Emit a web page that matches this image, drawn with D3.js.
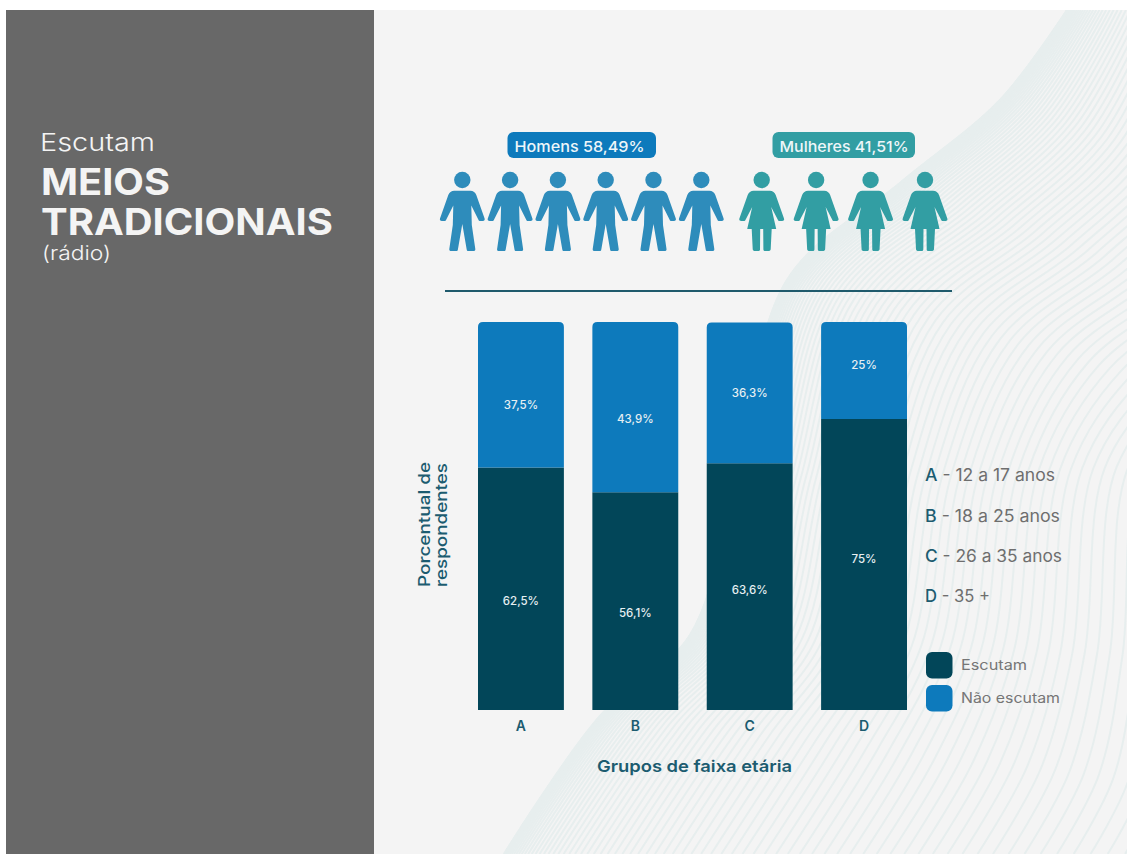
<!DOCTYPE html>
<html lang="pt-BR">
<head>
<meta charset="utf-8">
<title>Escutam meios tradicionais (rádio)</title>
<script src="https://cdn.jsdelivr.net/npm/d3@7/dist/d3.min.js"></script>
<style>
  html, body { margin: 0; padding: 0; background: #fff; }
  svg { display: block; }
  text { font-family: Inter, "Noto Sans", sans-serif; }
</style>
</head>
<body>
<svg id="chart" width="1127" height="854"></svg>
<script>
// Survey values
const ageGroups = ["A", "B", "C", "D"];
const listenShare = [62.5, 56.1, 63.6, 75];
const notListenShare = [37.5, 43.9, 36.3, 25];
const genderNames = ["Homens", "Mulheres"];
const genderShare = [58.49, 41.51];
const iconCounts = [6, 4];
const ageRanges = ["12 a 17 anos", "18 a 25 anos", "26 a 35 anos", "35 +"];
const seriesNames = ["Escutam", "Não escutam"];

// Palette
const navy = "#024659", blue = "#0d7abc", teal = "#329ea3", manBlue = "#2e8cbb";
const inkTeal = "#1c5c70", inkGrey = "#6e6e6e";

const svg = d3.select("#chart");
const ptBR = d3.formatLocale({ decimal: ",", thousands: ".", grouping: [3], currency: ["R$", ""] });
const pct1 = v => ptBR.format(".1~f")(v) + "%";
const pct2 = v => ptBR.format(".2f")(v) + "%";

// Adds a text element and stretches it to an exact width
function label(parent, str, x, y, size, weight, fill, width, anchor) {
  const t = parent.append("text").attr("x", x).attr("y", y)
    .attr("font-size", size).attr("font-weight", weight).attr("fill", fill)
    .attr("text-anchor", anchor || "start").text(str);
  if (width) t.attr("textLength", width).attr("lengthAdjust", "spacingAndGlyphs");
  return t;
}

// Page background and side panel
svg.append("rect").attr("x", 374).attr("y", 10).attr("width", 753).attr("height", 844).attr("fill", "#f4f4f4");
svg.append("rect").attr("x", 6).attr("y", 10).attr("width", 368).attr("height", 844).attr("fill", "#686868");

// Decorative swoosh: curves blended between an inner and an outer outline, bunched along the inner one
svg.append("clipPath").attr("id", "pageClip").append("rect")
  .attr("x", 374).attr("y", 10).attr("width", 753).attr("height", 844);
const swooshInner = [[504,854],[600,716],[690,635],[735,480],[787,280],[900,183],[1000,100],[1067,10]];
const swooshOuter = [[1197,854],[1225,790],[1232,660],[1243,463],[1309,422],[1400,361],[1467,267],[1522,10]];
const swooshLine = d3.line().curve(d3.curveCatmullRom.alpha(0.5));
const swoosh = svg.append("g").attr("clip-path", "url(#pageClip)")
  .attr("fill", "none").attr("stroke", "#e7eeee").attr("stroke-width", 2);
d3.range(0, 76).forEach(i => {
  const s = Math.pow(i / 75, 2);
  swoosh.append("path").attr("d", swooshLine(swooshInner.map((p, k) => [
    d3.interpolateNumber(p[0], swooshOuter[k][0])(s),
    d3.interpolateNumber(p[1], swooshOuter[k][1])(s)
  ])));
});

// Title block
const title = svg.append("g");
label(title, "Escutam", 40, 151, 24, 300, "#f4f4f4", 115);
label(title, "MEIOS", 41, 195, 37, 700, "#f4f4f4", 129);
label(title, "TRADICIONAIS", 41, 235, 37, 700, "#f4f4f4", 292);
label(title, "(rádio)", 42, 260, 20, 300, "#f4f4f4", 69);

// Pictogram row
const manPath = "M-8,10.7H8C11,10.7 13,12.5 14,15L22.3,38.5C22.8,40 22,41 20.5,41H18C17,41 16.4,40.5 16,39.5L9,25.5L9.5,45L13,69C13.2,70.5 12.5,71 11,71H6C5,71 4.6,70.5 4.4,69.5L0,44L-4.4,69.5C-4.6,70.5 -5,71 -6,71H-11C-12.5,71 -13.2,70.5 -13,69L-9.5,45L-9,25.5L-16,39.5C-16.4,40.5 -17,41 -18,41H-20.5C-22,41 -22.8,40 -22.3,38.5L-14,15C-13,12.5 -11,10.7 -8,10.7Z";
const womanPath = "M-8,10.7H8C11,10.7 13,12.5 14,15L22.3,38.5C22.8,40 22,41 20.5,41H18C17,41 16.4,40.5 16,39.5L9.5,27L14.5,49H10L9,69C9,70.5 8,71 6.5,71H3.5C2.5,71 1.8,70.5 1.7,69.5L1.5,49H-1.5L-1.7,69.5C-1.8,70.5 -2.5,71 -3.5,71H-6.5C-8,71 -9,70.5 -9,69L-10,49H-14.5L-9.5,27L-16,39.5C-16.4,40.5 -17,41 -18,41H-20.5C-22,41 -22.8,40 -22.3,38.5L-14,15C-13,12.5 -11,10.7 -8,10.7Z";
const iconRows = [
  { span: [462.3, 701.3], path: manPath, fill: manBlue },
  { span: [761.7, 925], path: womanPath, fill: teal }
];
iconRows.forEach((row, k) => {
  const x = d3.scalePoint().domain(d3.range(iconCounts[k])).range(row.span);
  const people = svg.append("g").attr("fill", row.fill).selectAll("g")
    .data(x.domain()).join("g").attr("transform", d => `translate(${x(d)},180)`);
  people.append("circle").attr("r", 8.2);
  people.append("path").attr("d", row.path);
});

// Gender tags above the pictograms
const tags = [
  { x: 507.5, w: 148.5, fill: blue, tx: 514.5, tw: 130 },
  { x: 772.5, w: 142.5, fill: teal, tx: 779.5, tw: 129 }
];
tags.forEach((tag, i) => {
  svg.append("rect").attr("x", tag.x).attr("y", 132).attr("width", tag.w).attr("height", 26)
    .attr("rx", 6).attr("fill", tag.fill);
  label(svg, `${genderNames[i]} ${pct2(genderShare[i])}`, tag.tx, 151.5, 15, 500, "#eef6f9", tag.tw);
});

// Divider between pictograms and chart
svg.append("line").attr("x1", 445).attr("x2", 952).attr("y1", 291).attr("y2", 291)
  .attr("stroke", "#1f5a6c").attr("stroke-width", 2);

// Stacked bars
const x = d3.scaleBand().domain(ageGroups).range([478, 907]).paddingInner(0.249).paddingOuter(0);
const y = d3.scaleLinear().domain([0, 100]).range([710, 322]);
const rows = ageGroups.map((g, i) => ({ group: g, [seriesNames[0]]: listenShare[i], [seriesNames[1]]: notListenShare[i] }));
const stacked = d3.stack().keys(seriesNames)(rows);
const seriesFill = d3.scaleOrdinal().domain(seriesNames).range([navy, blue]);

// Vertical nudge of the value labels inside each bar, one row per series
const labelNudge = [[12, 12, 3, -6], [10.5, 12, 0, -6]];

function barPath(d, rounded) {
  const x0 = x(d.data.group), x1 = x0 + x.bandwidth(), top = y(d[1]), bot = y(d[0]), r = rounded ? 5 : 0;
  const p = d3.path();
  p.moveTo(x0, bot);
  p.lineTo(x0, top + r);
  if (r) p.quadraticCurveTo(x0, top, x0 + r, top);
  p.lineTo(x1 - r, top);
  if (r) p.quadraticCurveTo(x1, top, x1, top + r);
  p.lineTo(x1, bot);
  p.closePath();
  return p.toString();
}

stacked.forEach((layer, li) => {
  const g = svg.append("g");
  g.selectAll("path").data(layer).join("path")
    .attr("d", d => barPath(d, li === stacked.length - 1))
    .attr("fill", seriesFill(layer.key));
  g.selectAll("text").data(layer).join("text")
    .attr("x", d => x(d.data.group) + x.bandwidth() / 2)
    .attr("y", (d, i) => (y(d[0]) + y(d[1])) / 2 + labelNudge[li][i] + 4)
    .attr("text-anchor", "middle").attr("font-size", 11.5).attr("font-weight", 500)
    .attr("fill", "#e6eff2")
    .text(d => pct1(d[1] - d[0]));
});

// Category axis
const axis = svg.append("g").attr("transform", "translate(0,710)")
  .call(d3.axisBottom(x).tickSize(0).tickPadding(11));
axis.select(".domain").remove();
axis.selectAll("text").attr("font-size", 14).attr("font-weight", 600).attr("fill", inkTeal)
  .style("font-family", "Inter, 'Noto Sans', sans-serif");

// Axis titles
label(svg, "Grupos de faixa etária", 597, 772, 16.5, 600, inkTeal, 195);
const yTitle = svg.append("g").attr("transform", "translate(430,587) rotate(-90)");
label(yTitle, "Porcentual de", 0, 0, 16.5, 500, inkTeal, 125);
label(yTitle, "respondentes", 0, 17, 16.5, 500, inkTeal, 124);

// Age group key
const keyRows = svg.append("g");
const keyBaselines = [481, 522, 562, 602];
const keyWidths = [130, 135, 137, 65];
ageGroups.forEach((g, i) => {
  const t = keyRows.append("text").attr("x", 925).attr("y", keyBaselines[i]).attr("font-size", 17)
    .attr("textLength", keyWidths[i]).attr("lengthAdjust", "spacingAndGlyphs");
  t.append("tspan").attr("fill", inkTeal).attr("font-weight", 500).text(g);
  t.append("tspan").attr("fill", inkGrey).attr("font-weight", 400).text(` - ${ageRanges[i]}`);
});

// Series legend
const legendTop = [652, 685], legendBase = [669.5, 702.5], legendWidths = [66, 99];
seriesNames.forEach((name, i) => {
  svg.append("rect").attr("x", 926).attr("y", legendTop[i]).attr("width", 26.5).attr("height", 26.5)
    .attr("rx", 6).attr("fill", seriesFill(name));
  label(svg, name, 961, legendBase[i], 14, 400, "#767676", legendWidths[i]);
});
</script>
</body>
</html>
